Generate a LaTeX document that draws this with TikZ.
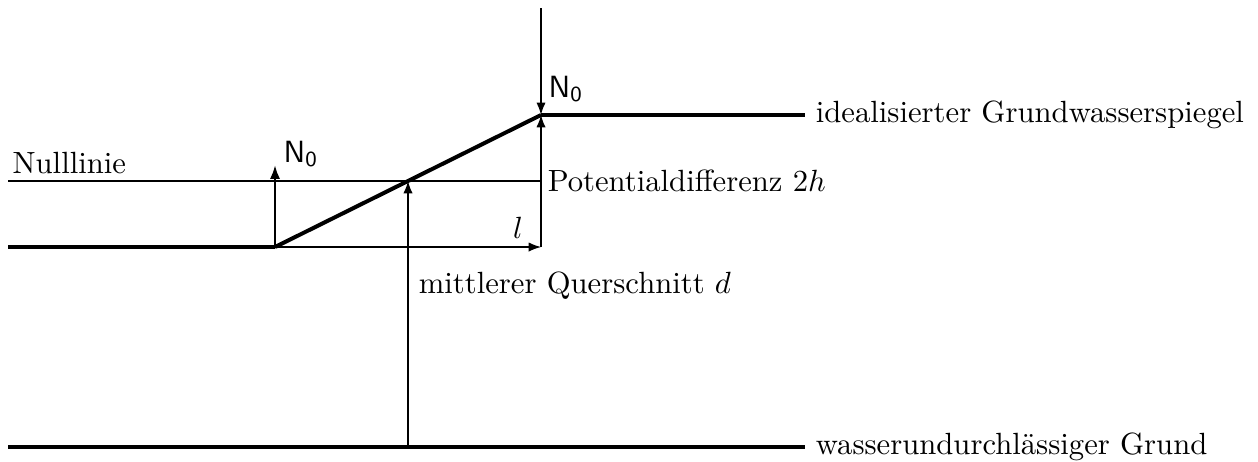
\documentclass[tikz,border=0pt]{standalone}
\usepackage{amsmath}
\usepackage{tikz}
\usetikzlibrary{arrows.meta}

\begin{document}
\begin{tikzpicture}[x=0.326pt, y=-0.326pt,
        spiegel/.style={line width=1.6pt},
        duenn/.style={line width=0.4pt},
        pfeil/.style={-{Latex[length=4pt, width=3pt]}},
        kraft/.style={-{Latex[length=4.5pt, width=3.3pt]}, line width=0.8pt}]
        \useasboundingbox (0,0) rectangle (1258,461);

            \coordinate (links) at (8,247);
            \coordinate (fuss) at (275,247);
            \coordinate (kopf) at (541,115);
            \coordinate (fusslot) at (541,247);
            \coordinate (mitte) at (408,181);
            \coordinate (null) at (8,181);
            \coordinate (grundl) at (8,447);
            \coordinate (grundm) at (408,447);
            \coordinate (oben) at (541,8);
            \coordinate (nspitze) at (275,165);

            \node[anchor=west] (spiegeltext) at (805,115) {idealisierter Grundwasserspiegel};
            \node[anchor=west] (grundtext) at (805,447) {wasserundurchlässiger Grund};
            \node[anchor=base west, inner sep=1pt] (nulltext) at (9,173) {Nulllinie};
            \node[anchor=west, inner sep=2pt] (potential) at (541,181) {Potentialdifferenz $2h$};
            \node[anchor=base west] (quer) at (408,293) {mittlerer Querschnitt $d$};
            \node (laenge) at (518,228) {$l$};
            \node[anchor=base west, inner sep=1pt] (nlinks) at (280,162) {$\mathsf{N_0}$};
            \node[anchor=base west, inner sep=1pt] (noben) at (545,97) {$\mathsf{N_0}$};

            \draw[spiegel] (links) -- (fuss);
            \draw[line width=1.3pt] (fuss) -- (kopf);
            \draw[spiegel] (kopf) -- (spiegeltext.west);
            \draw[spiegel] (grundl) -- (grundtext.west);
            \draw[duenn] (null) -- (potential.west);
            \draw[duenn, pfeil] (fuss) -- (fusslot);
            \draw[duenn, pfeil] (fusslot) -- (kopf);
            \draw[duenn, pfeil] (grundm) -- (mitte);
            \draw[line width=0.55pt, pfeil] (oben) -- (kopf);
            \draw[kraft] (fuss) -- (nspitze);
        \end{tikzpicture}
\end{document}
